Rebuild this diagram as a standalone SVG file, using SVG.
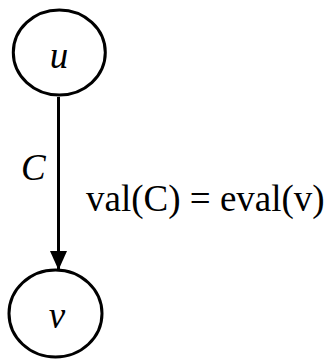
<svg xmlns="http://www.w3.org/2000/svg" width="335" height="361" viewBox="0 0 335 361">
<style>
.node{fill:#fff;stroke:#000;stroke-width:3}
.lbl{font-family:"Liberation Serif","Times New Roman",serif;font-size:37px;fill:#000}
.it{font-style:italic}
.edge{stroke:#000;stroke-width:3;fill:none}
</style>
<defs>
<marker id="ah" markerUnits="userSpaceOnUse" markerWidth="19" markerHeight="17" refX="18.5" refY="8.5" orient="auto" viewBox="0 0 19 17">
<path d="M0,0 L19,8.5 L0,17 Z" fill="#000"/>
</marker>
</defs>
<g id="edges">
<path class="edge" d="M58.5,97 L58.5,269.5" marker-end="url(#ah)"/>
<text class="lbl it" x="21" y="180">C</text>
<text class="lbl" x="86" y="211">val(C) = eval(v)</text>
</g>
<g id="node-u">
<ellipse class="node" cx="59.3" cy="52.5" rx="46" ry="42.5"/>
<text class="lbl it" x="59" y="68" text-anchor="middle">u</text>
</g>
<g id="node-v">
<ellipse class="node" cx="55.5" cy="313.5" rx="46.5" ry="43.5"/>
<text class="lbl it" x="57" y="328" text-anchor="middle">v</text>
</g>
</svg>
